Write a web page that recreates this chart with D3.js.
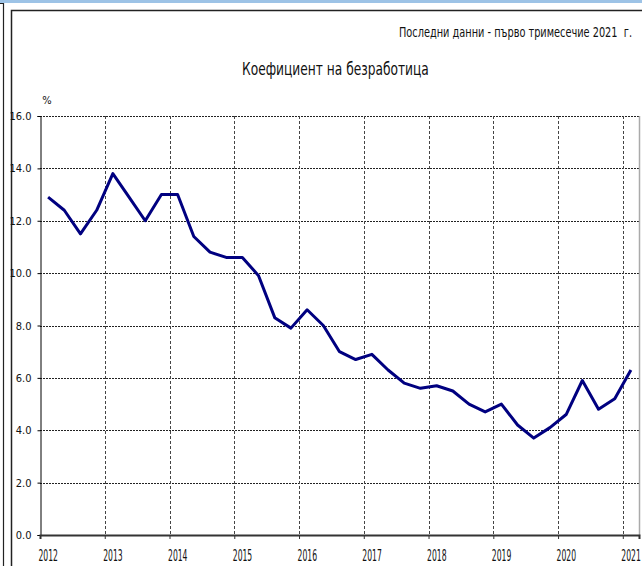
<!DOCTYPE html>
<html lang="bg">
  <head>
    <meta charset="UTF-8" />
    <title>Коефициент на безработица</title>
    <style>
      body { margin: 0; background: #fff; }
      svg { display: block; }
      text { font-family: "Liberation Sans Narrow", "DejaVu Sans Condensed", sans-serif; fill: #111; }
    </style>
  </head>
  <body>
    <svg width="642" height="566"></svg>
    <script src="https://cdnjs.cloudflare.com/ajax/libs/d3/7.8.5/d3.min.js"></script>
    <script>
      // quarterly data, 2012 Q1 .. 2021 Q1
      var years = [2012, 2013, 2014, 2015, 2016, 2017, 2018, 2019, 2020, 2021];
      var yTicks = [0, 2, 4, 6, 8, 10, 12, 14, 16];
      var values = [
        12.9, 12.4, 11.5, 12.4,
        13.8, 12.9, 12.0, 13.0,
        13.0, 11.4, 10.8, 10.6,
        10.6, 9.9, 8.3, 7.9,
        8.6, 8.0, 7.0, 6.7,
        6.9, 6.3, 5.8, 5.6,
        5.7, 5.5, 5.0, 4.7,
        5.0, 4.2, 3.7, 4.1,
        4.6, 5.9, 4.8, 5.2,
        6.3
      ];
      var title = "Коефициент на безработица";
      var subtitle = "Последни данни - първо тримесечие 2021  г.";

      var svg = d3.select("svg");

      // squeeze a text horizontally so it is `w` px wide, starting at (tx, ty)
      function squeeze(sel, w, tx, ty) {
        sel.attr("x", 0).attr("y", 0).each(function () {
          var k = w / this.getComputedTextLength();
          d3.select(this).attr("transform", "translate(" + tx + "," + ty + ") scale(" + k + ",1)");
        });
      }

      // top band and frames
      svg.append("rect").attr("x", 0).attr("y", 0).attr("width", 642).attr("height", 3)
        .attr("fill", "#9dc3e6");
      svg.append("path").attr("d", "M0,3.5H3.5V566")
        .attr("fill", "none").attr("stroke", "#222").attr("stroke-width", 1.2);
      svg.append("path").attr("d", "M11.5,566V10.5H642")
        .attr("fill", "none").attr("stroke", "#222").attr("stroke-width", 1.5);

      var x = d3.scaleLinear().domain([2012, 2021.25]).range([40, 639]);
      var y = d3.scaleLinear().domain([0, 16]).range([535, 116]);

      // horizontal grid
      svg.append("g").selectAll("line").data(yTicks.slice(1)).enter().append("line")
        .attr("x1", 40).attr("x2", 639)
        .attr("y1", function (d) { return Math.round(y(d)) + 0.5; })
        .attr("y2", function (d) { return Math.round(y(d)) + 0.5; })
        .attr("stroke", "#222").attr("stroke-dasharray", "2,1");

      // vertical grid
      svg.append("g").selectAll("line").data(years.slice(1)).enter().append("line")
        .attr("x1", function (d) { return Math.round(x(d)) + 0.5; })
        .attr("x2", function (d) { return Math.round(x(d)) + 0.5; })
        .attr("y1", 116).attr("y2", 535)
        .attr("stroke", "#444").attr("stroke-dasharray", "3,2");

      // right border
      svg.append("line").attr("x1", 639.5).attr("x2", 639.5).attr("y1", 116).attr("y2", 536)
        .attr("stroke", "#aaa").attr("stroke-width", 1.5);

      // y axis
      var yAxis = d3.axisLeft(y).tickValues(yTicks).tickSize(3).tickPadding(6)
        .tickFormat(d3.format(".1f"));
      var gy = svg.append("g").attr("transform", "translate(40.5,0)").call(yAxis);
      gy.select(".domain").attr("stroke", "#000");
      gy.selectAll(".tick line").attr("stroke", "#000");
      gy.selectAll("text").attr("font-size", 11).attr("font-family", null).attr("fill", "#111");

      // x axis
      var xAxis = d3.axisBottom(x).tickValues(years).tickSize(4).tickFormat(d3.format("d"));
      var gx = svg.append("g").attr("transform", "translate(0,535)").call(xAxis);
      gx.select(".domain").attr("stroke", "#333").attr("stroke-width", 2);
      gx.selectAll(".tick line").attr("stroke", "#333");
      gx.selectAll(".tick text")
        .attr("font-size", 16).attr("font-family", null).attr("fill", "#111")
        .attr("text-anchor", "start").attr("dy", null)
        .call(squeeze, 19.5, -2, 26);

      // line
      var line = d3.line()
        .x(function (d, i) { return x(2012 + (i + 0.5) / 4); })
        .y(function (d) { return y(d); });
      svg.append("path").datum(values).attr("d", line)
        .attr("fill", "none").attr("stroke", "#000080").attr("stroke-width", 3)
        .attr("stroke-linejoin", "round");

      // texts
      svg.append("text").attr("x", 47).attr("y", 104).attr("text-anchor", "middle")
        .attr("font-size", 11).text("%");
      svg.append("text").attr("font-size", 17).text(title)
        .call(squeeze, 187, 242, 75);
      svg.append("text").attr("font-size", 13.5).style("white-space", "pre").text(subtitle)
        .call(squeeze, 233, 399, 37);
    </script>
  </body>
</html>
